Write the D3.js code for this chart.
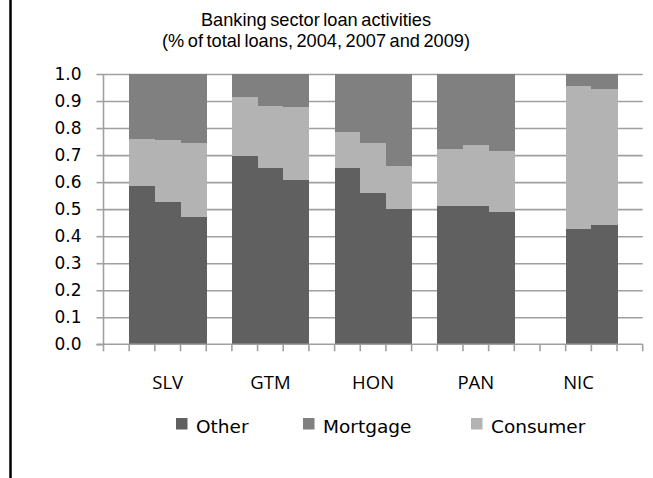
<!DOCTYPE html>
<html>
<head>
<meta charset="utf-8">
<script src="https://cdn.jsdelivr.net/npm/d3@7/dist/d3.min.js"></script>
<style>
  html, body { margin: 0; padding: 0; background: #fff; }
  svg { display: block; }
</style>
</head>
<body>
<svg id="chart" width="653" height="478"></svg>
<script>
// Countries and the years shown for each
const countries = ["SLV", "GTM", "HON", "PAN", "NIC"];
const years = ["2004", "2007", "2009"];

// Share of total loans by type, per country, years 2004 / 2007 / 2009
const other = {
  SLV: [0.586, 0.528, 0.472],
  GTM: [0.700, 0.653, 0.611],
  HON: [0.653, 0.563, 0.502],
  PAN: [0.515, 0.514, 0.490],
  NIC: [null, 0.430, 0.443]
};
const consumer = {
  SLV: [0.176, 0.229, 0.274],
  GTM: [0.215, 0.232, 0.267],
  HON: [0.135, 0.182, 0.158],
  PAN: [0.211, 0.225, 0.226],
  NIC: [null, 0.526, 0.502]
};
const mortgage = {
  SLV: [0.238, 0.243, 0.254],
  GTM: [0.085, 0.115, 0.122],
  HON: [0.212, 0.255, 0.340],
  PAN: [0.274, 0.261, 0.284],
  NIC: [null, 0.044, 0.055]
};

const yTicks = [0, 0.1, 0.2, 0.3, 0.4, 0.5, 0.6, 0.7, 0.8, 0.9, 1.0];
const titleLines = ["Banking sector loan activities", "(% of total loans, 2004, 2007 and 2009)"];
const legendItems = ["Other", "Mortgage", "Consumer"];

const colors = { Other: "#606060", Mortgage: "#808080", Consumer: "#b3b3b3" };
const seriesData = { Other: other, Consumer: consumer, Mortgage: mortgage };
const stackOrder = ["Other", "Consumer", "Mortgage"];

const svg = d3.select("#chart");

// Plot area
const plotLeft = 103.5, plotRight = 642.7, plotTop = 74, plotBottom = 344.3;

// Slots: a blank slot before each country, one per year, and a trailing blank
const slots = [];
countries.forEach(c => {
  slots.push("gap-" + c);
  years.forEach(yr => slots.push(c + "-" + yr));
});
slots.push("gap-end");

const x = d3.scaleBand().domain(slots).range([plotLeft, plotRight]).padding(0);
const y = d3.scaleLinear().domain([0, 1]).range([plotBottom, plotTop]);

// Left frame line
svg.append("line")
  .attr("x1", 10.5).attr("x2", 10.5).attr("y1", 0).attr("y2", 478)
  .attr("stroke", "#000").attr("stroke-width", 2.5);

// Title
svg.append("g").selectAll("text").data(titleLines).join("text")
  .attr("x", 316).attr("y", (d, i) => 26 + i * 21)
  .attr("text-anchor", "middle")
  .attr("font-family", "Liberation Sans, Arial, sans-serif")
  .attr("font-size", 18.2)
  .attr("word-spacing", -1.5)
  .attr("fill", "#000")
  .text(d => d);

// Horizontal gridlines
const grid = svg.append("g")
  .attr("transform", `translate(${plotLeft},0)`)
  .call(d3.axisLeft(y).tickValues(yTicks.slice(1)).tickSize(-(plotRight - plotLeft)).tickFormat(""));
grid.select(".domain").remove();
grid.selectAll("line").attr("stroke", "#a0a0a0").attr("stroke-width", 1.6);

// Stacked bars
const rows = [];
countries.forEach(c => {
  years.forEach((yr, i) => {
    if (other[c][i] == null) return;
    let base = 0;
    stackOrder.forEach(s => {
      const v = seriesData[s][c][i];
      rows.push({ slot: c + "-" + yr, series: s, y0: base, y1: base + v });
      base += v;
    });
  });
});

svg.append("g").attr("shape-rendering", "crispEdges")
  .selectAll("rect").data(rows).join("rect")
  .attr("x", d => x(d.slot))
  .attr("width", x.bandwidth() + 0.5)
  .attr("y", d => y(d.y1))
  .attr("height", d => y(d.y0) - y(d.y1) + 0.5)
  .attr("fill", d => colors[d.series]);

// Y axis
const yAxis = svg.append("g")
  .attr("transform", `translate(${plotLeft},0)`)
  .call(d3.axisLeft(y).tickValues(yTicks).tickFormat(d3.format(".1f")).tickSize(7).tickPadding(15));
yAxis.select(".domain").attr("stroke", "#a0a0a0").attr("stroke-width", 1.6).attr("d", `M0,${plotTop}V${plotBottom}`);
yAxis.selectAll(".tick line").attr("stroke", "#a0a0a0").attr("stroke-width", 1.6);
yAxis.selectAll(".tick text")
  .attr("font-family", "DejaVu Sans, sans-serif")
  .attr("font-size", 17)
  .attr("fill", "#000");

// X axis line and ticks at slot boundaries
const boundaries = slots.map(s => x(s)).concat([x(slots[slots.length - 1]) + x.bandwidth()]);
const xAxis = svg.append("g");
xAxis.append("line")
  .attr("x1", plotLeft - 7).attr("x2", plotRight).attr("y1", plotBottom).attr("y2", plotBottom)
  .attr("stroke", "#a0a0a0").attr("stroke-width", 1.6);
xAxis.selectAll("line.tick").data(boundaries).join("line")
  .attr("class", "tick")
  .attr("x1", d => d).attr("x2", d => d)
  .attr("y1", plotBottom).attr("y2", plotBottom + 7)
  .attr("stroke", "#a0a0a0").attr("stroke-width", 1.6);

// Country labels centred under their three year slots
xAxis.selectAll("text").data(countries).join("text")
  .attr("x", c => (x(c + "-" + years[0]) + x(c + "-" + years[2]) + x.bandwidth()) / 2)
  .attr("y", 389)
  .attr("text-anchor", "middle")
  .attr("font-family", "Open Sans, sans-serif")
  .attr("font-size", 18.5)
  .attr("fill", "#000")
  .text(c => c);

// Legend
const legendX = [176, 303, 471];
const legend = svg.append("g").selectAll("g").data(legendItems).join("g")
  .attr("transform", (d, i) => `translate(${legendX[i]},418)`);
legend.append("rect").attr("width", 11.5).attr("height", 11.5).attr("fill", d => colors[d]);
legend.append("text")
  .attr("x", 20).attr("y", 15)
  .attr("font-family", "DejaVu Sans, sans-serif")
  .attr("font-size", 18.5)
  .attr("fill", "#000")
  .text(d => d);
</script>
</body>
</html>
